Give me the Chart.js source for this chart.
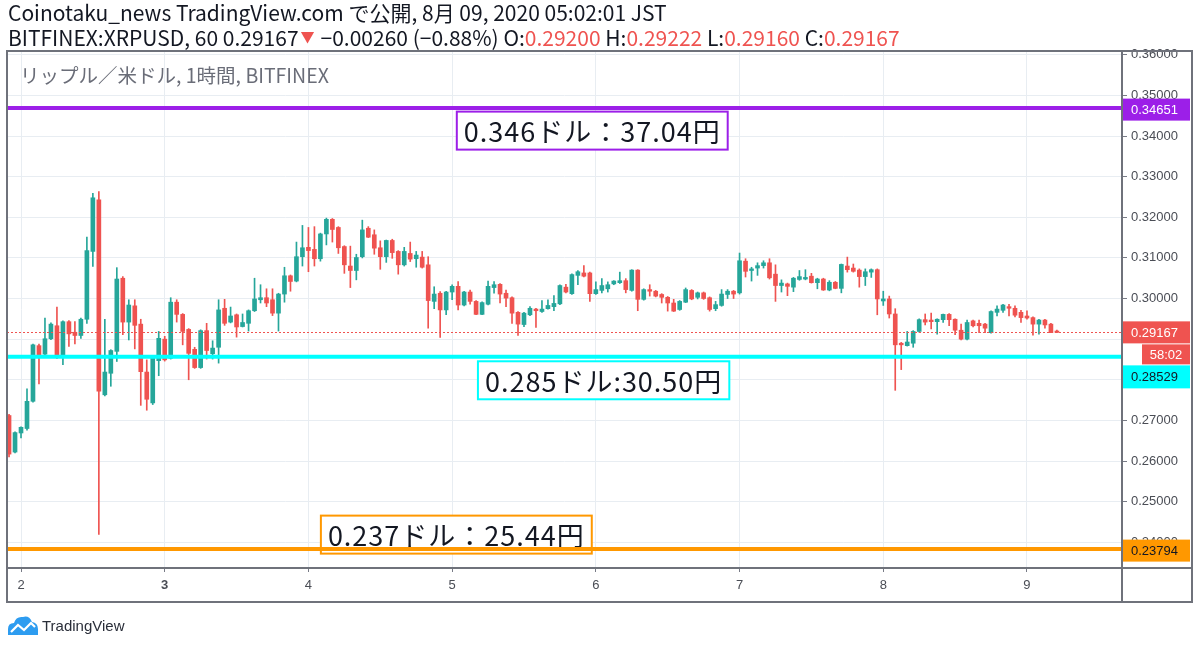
<!DOCTYPE html>
<html>
<head>
<meta charset="utf-8">
<script src="https://cdn.jsdelivr.net/npm/chart.js@4.4.0/dist/chart.umd.min.js"></script>
<style>
  body { margin: 0; background: #fff; }
  #wrap { position: relative; width: 1200px; height: 647px; overflow: hidden; font-family: "Noto Sans CJK JP", "Noto Sans", sans-serif; }
  #chart { position: absolute; left: 0; top: 0; }
  .hdr { position: absolute; left: 8px; font-size: 21px; line-height: 25px; color: #131722; white-space: nowrap; }
  .red { color: #ef5350; }
  .tri { font-size: 14px; position: relative; top: -4px; margin: 0 6px 0 2px; }
  #wm { position: absolute; left: 20px; top: 62px; font-size: 19.5px; line-height: 26px; color: #6a6d78; white-space: nowrap; }
  #logo { position: absolute; left: 7px; top: 612px; height: 26px; display: flex; align-items: center; }
  #logo span { font-family: "Liberation Sans", Arial, sans-serif; font-size: 15px; color: #2a2e39; margin-left: 3px; }
</style>
</head>
<body>
<div id="wrap">
  <canvas id="chart" width="1200" height="647"></canvas>
  <div class="hdr" style="top:0px">Coinotaku_news TradingView.com で公開, 8月 09, 2020 05:02:01 JST</div>
  <div class="hdr" style="top:25px">BITFINEX:XRPUSD, 60 0.29167<span class="red tri">▼</span>−0.00260 (−0.88%) O:<span class="red">0.29200</span> H:<span class="red">0.29222</span> L:<span class="red">0.29160</span> C:<span class="red">0.29167</span></div>
  <div id="wm">リップル／米ドル, 1時間, BITFINEX</div>
  <div id="logo">
    <svg width="32" height="22" viewBox="0 0 32 22">
      <path d="M1 21 L1 15 Q1 9 7 9 Q9 2 16 3 Q22 1 25 8 Q31 9 31 15 L31 21 Z" fill="#2d9cf0"/>
      <polyline points="4,18 11,11 17,16 24,9 28,13" fill="none" stroke="#fff" stroke-width="2.2"/>
    </svg>
    <span>TradingView</span>
  </div>
</div>
<script>
// hourly candles, BITFINEX XRPUSD, from Aug 1 22:00 to Aug 9 05:00
const openP = [
  0.2712, 0.2622, 0.2669, 0.2680, 0.2747, 0.2884, 0.2863, 0.2901, 0.2933, 0.2857,
  0.2943, 0.2917, 0.2909, 0.2949, 0.3116, 0.3243, 0.2763, 0.2816, 0.2870, 0.3050,
  0.2942, 0.2982, 0.2937, 0.2819, 0.2743, 0.2847, 0.2900, 0.2853, 0.2991, 0.2961,
  0.2924, 0.2875, 0.2830, 0.2921, 0.2864, 0.2880, 0.2976, 0.2942, 0.2960, 0.2931,
  0.2939, 0.2970, 0.2997, 0.3002, 0.2997, 0.2964, 0.3011, 0.3056, 0.3043, 0.3103,
  0.3126, 0.3121, 0.3098, 0.3159, 0.3195, 0.3175, 0.3128, 0.3080, 0.3069, 0.3103,
  0.3173, 0.3157, 0.3125, 0.3103, 0.3143, 0.3116, 0.3083, 0.3111, 0.3098, 0.3102,
  0.3083, 0.2993, 0.3013, 0.2972, 0.3016, 0.3030, 0.2984, 0.3016, 0.2993, 0.2961,
  0.2986, 0.3027, 0.3035, 0.3013, 0.3002, 0.2966, 0.2936, 0.2960, 0.2974, 0.2968,
  0.2975, 0.2980, 0.2987, 0.3028, 0.3012, 0.3057, 0.3063, 0.3063, 0.3012, 0.3020,
  0.3024, 0.3036, 0.3039, 0.3044, 0.3020, 0.3070, 0.2998, 0.3022, 0.3018, 0.3010,
  0.3003, 0.2989, 0.2973, 0.2991, 0.3020, 0.3003, 0.3014, 0.3002, 0.2975, 0.2983,
  0.3010, 0.3018, 0.3014, 0.3092, 0.3069, 0.3075, 0.3081, 0.3088, 0.3060, 0.3032,
  0.3036, 0.3028, 0.3047, 0.3048, 0.3055, 0.3039, 0.3048, 0.3021, 0.3040, 0.3025,
  0.3080, 0.3075, 0.3070, 0.3054, 0.3065, 0.3071, 0.2994, 0.2999, 0.2962, 0.2890,
  0.2884, 0.2890, 0.2919, 0.2948, 0.2947, 0.2943, 0.2948, 0.2961, 0.2949, 0.2922,
  0.2900, 0.2945, 0.2939, 0.2937, 0.2916, 0.2966, 0.2971, 0.2980, 0.2976, 0.2966,
  0.2957, 0.2953, 0.2937, 0.2947, 0.2937, 0.29200
];
const highP = [
  0.2715, 0.2672, 0.2684, 0.2778, 0.2888, 0.2888, 0.2952, 0.2940, 0.2979, 0.2945,
  0.2946, 0.2943, 0.2952, 0.3151, 0.3259, 0.3263, 0.2949, 0.2874, 0.3076, 0.3054,
  0.2997, 0.2997, 0.2949, 0.2849, 0.2859, 0.2919, 0.2907, 0.3002, 0.2997, 0.2963,
  0.2926, 0.2880, 0.2923, 0.2939, 0.2896, 0.2997, 0.2998, 0.2979, 0.2962, 0.2962,
  0.2972, 0.3050, 0.3034, 0.3024, 0.3024, 0.3013, 0.3077, 0.3058, 0.3139, 0.3180,
  0.3175, 0.3177, 0.3161, 0.3198, 0.3197, 0.3177, 0.3130, 0.3129, 0.3109, 0.3193,
  0.3177, 0.3169, 0.3142, 0.3144, 0.3146, 0.3118, 0.3126, 0.3139, 0.3116, 0.3116,
  0.3103, 0.3029, 0.3017, 0.3018, 0.3034, 0.3042, 0.3018, 0.3021, 0.2995, 0.2992,
  0.3043, 0.3042, 0.3037, 0.3021, 0.3004, 0.2968, 0.2966, 0.2980, 0.2976, 0.2995,
  0.2997, 0.3007, 0.3034, 0.3035, 0.3061, 0.3069, 0.3081, 0.3065, 0.3041, 0.3049,
  0.3041, 0.3044, 0.3065, 0.3049, 0.3071, 0.3071, 0.3024, 0.3034, 0.3020, 0.3012,
  0.3005, 0.2998, 0.2995, 0.3026, 0.3022, 0.3016, 0.3016, 0.3004, 0.2993, 0.3022,
  0.3022, 0.3020, 0.3112, 0.3098, 0.3077, 0.3088, 0.3093, 0.3098, 0.3083, 0.3046,
  0.3038, 0.3052, 0.3069, 0.3071, 0.3062, 0.3050, 0.3050, 0.3044, 0.3042, 0.3085,
  0.3102, 0.3085, 0.3073, 0.3073, 0.3073, 0.3073, 0.3018, 0.3006, 0.2975, 0.2892,
  0.2919, 0.2921, 0.2950, 0.2962, 0.2964, 0.2950, 0.2962, 0.2963, 0.2950, 0.2937,
  0.2947, 0.2947, 0.2947, 0.2939, 0.2970, 0.2982, 0.2986, 0.2986, 0.2982, 0.2971,
  0.2970, 0.2955, 0.2949, 0.2949, 0.2939, 0.29222
];
const lowP = [
  0.2610, 0.2620, 0.2657, 0.2676, 0.2745, 0.2790, 0.2860, 0.2899, 0.2852, 0.2837,
  0.2882, 0.2888, 0.2902, 0.2939, 0.3079, 0.2419, 0.2760, 0.2784, 0.2845, 0.2911,
  0.2898, 0.2876, 0.2737, 0.2725, 0.2739, 0.2810, 0.2846, 0.2851, 0.2942, 0.2886,
  0.2800, 0.2828, 0.2828, 0.2851, 0.2851, 0.2841, 0.2934, 0.2940, 0.2905, 0.2930,
  0.2920, 0.2968, 0.2989, 0.2980, 0.2958, 0.2920, 0.2991, 0.3018, 0.3041, 0.3080,
  0.3066, 0.3080, 0.3092, 0.3132, 0.3139, 0.3111, 0.3062, 0.3027, 0.3046, 0.3100,
  0.3150, 0.3109, 0.3072, 0.3089, 0.3099, 0.3060, 0.3080, 0.3091, 0.3077, 0.3075,
  0.2927, 0.2975, 0.2904, 0.2960, 0.2997, 0.2972, 0.2982, 0.2986, 0.2960, 0.2960,
  0.2984, 0.3013, 0.2989, 0.2980, 0.2939, 0.2909, 0.2931, 0.2958, 0.2929, 0.2966,
  0.2974, 0.2970, 0.2985, 0.3014, 0.3010, 0.3034, 0.3053, 0.2993, 0.3010, 0.3014,
  0.3016, 0.3034, 0.3037, 0.3014, 0.3018, 0.2970, 0.2996, 0.3006, 0.3004, 0.2989,
  0.2969, 0.2968, 0.2971, 0.2990, 0.2997, 0.2999, 0.2998, 0.2969, 0.2970, 0.2981,
  0.3000, 0.3000, 0.3011, 0.3053, 0.3043, 0.3057, 0.3075, 0.3048, 0.2993, 0.3016,
  0.3007, 0.3017, 0.3045, 0.3046, 0.3038, 0.3024, 0.3020, 0.3019, 0.3024, 0.3014,
  0.3065, 0.3065, 0.3028, 0.3032, 0.3052, 0.2960, 0.2983, 0.2952, 0.2774, 0.2825,
  0.2883, 0.2880, 0.2917, 0.2935, 0.2925, 0.2912, 0.2941, 0.2933, 0.2911, 0.2898,
  0.2898, 0.2930, 0.2916, 0.2916, 0.2915, 0.2957, 0.2966, 0.2957, 0.2955, 0.2941,
  0.2949, 0.2910, 0.2912, 0.2927, 0.2916, 0.29160
];
const closeP = [
  0.2617, 0.2670, 0.2683, 0.2747, 0.2886, 0.2861, 0.2901, 0.2937, 0.2855, 0.2943,
  0.2913, 0.2909, 0.2949, 0.3118, 0.3248, 0.2772, 0.2819, 0.2872, 0.3048, 0.2942,
  0.2984, 0.2934, 0.2820, 0.2752, 0.2853, 0.2902, 0.2849, 0.2991, 0.2961, 0.2919,
  0.2865, 0.2830, 0.2921, 0.2872, 0.2878, 0.2972, 0.2939, 0.2957, 0.2930, 0.2941,
  0.2970, 0.2999, 0.3002, 0.2989, 0.2964, 0.3011, 0.3056, 0.3042, 0.3103, 0.3125,
  0.3118, 0.3098, 0.3159, 0.3195, 0.3170, 0.3125, 0.3083, 0.3069, 0.3101, 0.3169,
  0.3151, 0.3124, 0.3103, 0.3143, 0.3113, 0.3083, 0.3116, 0.3097, 0.3107, 0.3077,
  0.2995, 0.3011, 0.2972, 0.3016, 0.3030, 0.2984, 0.3016, 0.2993, 0.2961, 0.2990,
  0.3030, 0.3034, 0.3011, 0.3001, 0.2964, 0.2937, 0.2964, 0.2976, 0.2970, 0.2974,
  0.2983, 0.2988, 0.3032, 0.3016, 0.3059, 0.3066, 0.3055, 0.3012, 0.3022, 0.3032,
  0.3034, 0.3043, 0.3044, 0.3022, 0.3070, 0.2998, 0.3022, 0.3018, 0.3006, 0.3003,
  0.2989, 0.2969, 0.2993, 0.3022, 0.2999, 0.3014, 0.3000, 0.2973, 0.2985, 0.3011,
  0.3018, 0.3011, 0.3093, 0.3067, 0.3073, 0.3081, 0.3088, 0.3051, 0.3032, 0.3038,
  0.3030, 0.3050, 0.3054, 0.3052, 0.3039, 0.3048, 0.3021, 0.3040, 0.3025, 0.3084,
  0.3071, 0.3067, 0.3054, 0.3066, 0.3071, 0.2999, 0.2999, 0.2962, 0.2886, 0.2886,
  0.2893, 0.2919, 0.2948, 0.2942, 0.2943, 0.2949, 0.2961, 0.2948, 0.2922, 0.2900,
  0.2941, 0.2933, 0.2933, 0.2927, 0.2968, 0.2974, 0.2984, 0.2976, 0.2959, 0.2953,
  0.2952, 0.2937, 0.2947, 0.2935, 0.2916, 0.29167
];

// x axis: candle index of each day's 00:00, and its label
const dayStartIdx = [2, 26, 50, 74, 98, 122, 146, 170];
const dayLabels = ['2', '3', '4', '5', '6', '7', '8', '9'];
const dayBold = [false, true, false, false, false, false, false, false];

// y axis ticks
const priceTicks = [0.24, 0.25, 0.26, 0.27, 0.28, 0.29, 0.30, 0.31, 0.32, 0.33, 0.34, 0.35, 0.36];

// horizontal levels drawn by hand and their notes
const levelValues = [0.34651, 0.28529, 0.23794];
const levelColors = ['#9c1fe8', '#00ffff', '#ff9800'];
const levelTextColors = ['#ffffff', '#131722', '#131722'];
const noteTexts = ['0.346ドル：37.04円', '0.285ドル:30.50円', '0.237ドル：25.44円'];
const countdownText = '58:02';

// note placement (style only)
const noteStyle = [
  { ix: 97.4, dy: 21 },
  { ix: 99.3, dy: 22 },
  { ix: 74.7, dy: -16 }
];

const UP = '#26a69a';
const DOWN = '#ef5350';
const candleColors = closeP.map((c, i) => c >= openP[i] ? UP : DOWN);
const wickData = lowP.map((l, i) => ({ x: i, y: [l, highP[i]] }));
const bodyData = openP.map((o, i) => ({ x: i, y: [o, closeP[i]] }));

const overlay = {
  id: 'overlay',
  afterDatasetsDraw(chart) {
    const { ctx, chartArea: a, scales: { x, y } } = chart;
    ctx.save();
    ctx.beginPath();
    ctx.rect(a.left, a.top, a.right - a.left, a.bottom - a.top);
    ctx.clip();

    // last price dotted line
    const yc = Math.round(y.getPixelForValue(closeP[closeP.length - 1])) + 0.5;
    ctx.strokeStyle = DOWN;
    ctx.lineWidth = 1;
    ctx.setLineDash([2, 2]);
    ctx.beginPath();
    ctx.moveTo(a.left, yc);
    ctx.lineTo(a.right, yc);
    ctx.stroke();
    ctx.setLineDash([]);

    // note boxes
    ctx.font = '27px "Noto Sans CJK JP", sans-serif';
    ctx.letterSpacing = '1px';
    ctx.textBaseline = 'middle';
    ctx.textAlign = 'center';
    noteTexts.forEach((t, k) => {
      const cx = x.getPixelForValue(noteStyle[k].ix);
      const cy = y.getPixelForValue(levelValues[k]) + noteStyle[k].dy;
      const w = ctx.measureText(t).width + 14;
      const h = 38;
      ctx.fillStyle = '#fff';
      ctx.fillRect(cx - w / 2, cy - h / 2, w, h);
      ctx.strokeStyle = levelColors[k];
      ctx.lineWidth = 2;
      ctx.strokeRect(cx - w / 2, cy - h / 2, w, h);
      ctx.fillStyle = '#131722';
      ctx.fillText(t, cx, cy + 1);
    });
    ctx.letterSpacing = '0px';

    // level lines
    levelValues.forEach((v, k) => {
      const py = y.getPixelForValue(v) - 1.5;
      ctx.strokeStyle = levelColors[k];
      ctx.lineWidth = 4;
      ctx.beginPath();
      ctx.moveTo(a.left, py);
      ctx.lineTo(a.right, py);
      ctx.stroke();
    });
    ctx.restore();
  },
  afterDraw(chart) {
    const { ctx, chartArea: a, scales: { y } } = chart;
    const outerR = a.right + 70;
    const outerB = a.bottom + 34;
    ctx.save();

    // price labels on the axis, pushed down when they collide
    const labels = [
      { v: levelValues[0], bg: levelColors[0], fg: levelTextColors[0], t: levelValues[0].toFixed(5), h: 22 },
      { v: closeP[closeP.length - 1], bg: DOWN, fg: '#fff', t: closeP[closeP.length - 1].toFixed(5), h: 22 },
      { v: null, bg: DOWN, fg: '#fff', t: countdownText, h: 20, narrow: true },
      { v: levelValues[1], bg: levelColors[1], fg: levelTextColors[1], t: levelValues[1].toFixed(5), h: 23 },
      { v: levelValues[2], bg: levelColors[2], fg: levelTextColors[2], t: levelValues[2].toFixed(5), h: 22 }
    ];
    let prevBottom = -1e9;
    ctx.font = '13px "Liberation Sans", Arial, sans-serif';
    ctx.textBaseline = 'middle';
    labels.forEach(l => {
      let top = l.v === null ? prevBottom + 1 : y.getPixelForValue(l.v) - l.h / 2;
      if (top < prevBottom + 1) top = prevBottom + 1;
      const left = l.narrow ? a.right + 20 : a.right;
      ctx.fillStyle = l.bg;
      ctx.fillRect(left, top, outerR - 2 - left, l.h);
      ctx.fillStyle = l.fg;
      if (l.narrow) {
        ctx.textAlign = 'center';
        ctx.fillText(l.t, (left + outerR - 2) / 2, top + l.h / 2 + 1);
      } else {
        ctx.textAlign = 'left';
        ctx.fillText(l.t, a.right + 9, top + l.h / 2 + 1);
      }
      prevBottom = top + l.h;
    });

    // frame
    ctx.strokeStyle = '#6f727b';
    ctx.lineWidth = 2;
    ctx.beginPath();
    ctx.rect(a.left, a.top, outerR - a.left, outerB - a.top);
    ctx.moveTo(a.left, a.bottom); ctx.lineTo(outerR, a.bottom);
    ctx.moveTo(a.right, a.top); ctx.lineTo(a.right, outerB);
    ctx.stroke();
    ctx.restore();
  }
};

Chart.defaults.font.family = '"Liberation Sans", Arial, sans-serif';

new Chart(document.getElementById('chart'), {
  type: 'bar',
  data: {
    datasets: [
      {
        data: wickData,
        backgroundColor: candleColors,
        barThickness: 1,
        grouped: false,
        minBarLength: 1
      },
      {
        data: bodyData,
        backgroundColor: candleColors,
        barThickness: 4,
        grouped: false,
        minBarLength: 1
      }
    ]
  },
  options: {
    responsive: false,
    animation: false,
    layout: { padding: { left: 7, top: 51, right: 8, bottom: 45 } },
    plugins: { legend: { display: false }, tooltip: { enabled: false } },
    scales: {
      x: {
        type: 'linear',
        min: -0.34,
        max: 185.87,
        offset: false,
        afterBuildTicks: s => { s.ticks = dayStartIdx.map(v => ({ value: v })); },
        afterFit: s => { s.height = 34; },
        ticks: {
          autoSkip: false,
          maxRotation: 0,
          padding: 6,
          color: '#4a4d55',
          font: c => ({ size: 13, weight: dayBold[c.index] ? 'bold' : 'normal' }),
          callback: (v, i) => dayLabels[i]
        },
        grid: { offset: false, color: '#e8edf2', tickColor: '#787b86', tickLength: 4 },
        border: { display: false }
      },
      y: {
        position: 'right',
        min: 0.23366,
        max: 0.36094,
        afterBuildTicks: s => { s.ticks = priceTicks.map(v => ({ value: v })); },
        afterFit: s => { s.width = 70; },
        ticks: {
          padding: 4,
          color: '#4a4d55',
          font: { size: 13 },
          callback: v => v.toFixed(5)
        },
        grid: { color: '#e8edf2', tickColor: '#787b86', tickLength: 5 },
        border: { display: false }
      }
    }
  },
  plugins: [overlay]
});
</script>
</body>
</html>
